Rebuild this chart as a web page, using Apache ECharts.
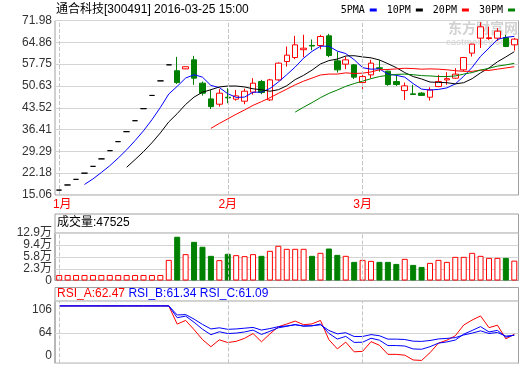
<!DOCTYPE html>
<html><head><meta charset="utf-8">
<script src="https://cdn.jsdelivr.net/npm/echarts@6/dist/echarts.min.js"></script>
<style>html,body{margin:0;padding:0;background:#fff}#c{width:520px;height:365px}</style>
</head><body><div id="c"></div>
<script>
// ---- data ----
const dates = ['2016-01-04','2016-01-05','2016-01-06','2016-01-07','2016-01-08','2016-01-11','2016-01-12','2016-01-13','2016-01-14','2016-01-15',
'2016-01-18','2016-01-19','2016-01-20','2016-01-21','2016-01-22','2016-01-25','2016-01-26','2016-01-27','2016-01-28','2016-01-29',
'2016-02-01','2016-02-02','2016-02-03','2016-02-04','2016-02-05','2016-02-15','2016-02-16','2016-02-17','2016-02-18','2016-02-19',
'2016-02-22','2016-02-23','2016-02-24','2016-02-25','2016-02-26','2016-02-29',
'2016-03-01','2016-03-02','2016-03-03','2016-03-04','2016-03-07','2016-03-08','2016-03-09','2016-03-10','2016-03-11','2016-03-14',
'2016-03-15','2016-03-16','2016-03-17','2016-03-18','2016-03-21','2016-03-22','2016-03-23','2016-03-24','2016-03-25'];
const opens  = [16.66,18.33,20.16,22.18,24.40,26.84,29.52,32.47,35.72,39.29,43.22,47.54,52.29,57.52,
55.60,56.20,59.15,51.54,46.41,44.68,46.95,46.31,45.66,48.60,52.06,46.08,52.61,58.59,59.90,62.45,
63.85,63.82,66.98,58.82,57.74,57.51,51.73,54.25,56.55,55.45,52.06,49.12,48.05,48.30,46.96,50.43,
52.60,53.17,55.88,61.33,66.23,66.10,66.23,66.43,64.04];
const closes = [16.66,18.33,20.16,22.18,24.40,26.84,29.52,32.47,35.72,39.29,43.22,47.54,52.29,57.52,
51.73,56.90,53.17,48.27,43.89,48.27,46.75,47.39,48.92,51.54,48.47,52.61,58.07,60.68,64.04,62.95,
63.65,66.76,60.55,55.88,59.15,53.50,53.69,58.07,56.35,51.10,51.08,50.65,47.85,47.55,49.35,52.06,
53.00,54.48,59.90,64.27,69.92,66.35,68.50,63.49,65.90];
const lows   = [16.66,18.33,20.16,22.18,24.40,26.84,29.52,32.47,35.72,39.29,43.22,47.54,52.29,57.52,
51.31,56.10,50.98,47.49,43.14,43.89,45.00,45.85,44.68,47.80,47.94,45.76,52.30,56.96,59.37,60.00,
62.30,62.64,60.00,55.00,56.11,52.90,48.47,53.17,55.30,50.70,50.65,46.08,47.70,47.40,45.85,50.23,
51.00,53.00,55.50,60.22,63.00,65.68,65.35,63.30,62.18];
const highs  = [16.66,18.33,20.16,22.18,24.40,26.84,29.52,32.47,35.72,39.29,43.22,47.54,52.29,57.52,
60.10,56.90,60.45,52.06,49.35,49.58,49.90,49.35,49.77,53.17,52.61,52.94,58.30,63.49,66.98,67.31,
65.80,67.31,67.64,61.86,60.22,57.80,55.33,59.15,59.00,55.60,54.25,51.73,50.98,48.60,50.20,54.25,
55.10,56.43,60.10,64.40,71.40,70.00,69.50,67.30,66.30];
const volumes = [5300,5300,5300,5300,5300,5300,5300,5300,5300,5300,5300,5300,5300,49800,
118000,66700,103000,88400,61700,49000,67600,63700,60800,66700,61700,76500,91300,82400,82400,82400,
61700,70600,83300,64600,61700,43900,49800,46800,43900,43900,37900,52800,35000,29000,40900,49800,
43900,58700,58700,70600,61700,55700,55700,55700,47525];
const ma5 = [null,null,null,18.5,20.3,22.4,24.6,27.1,29.8,32.8,36.0,39.6,43.6,48.0,50.5,53.2,54.3,53.5,50.8,50.1,
48.1,46.9,47.0,48.6,48.6,49.8,51.9,54.3,56.8,59.7,61.9,63.6,63.6,62.0,61.2,59.2,56.6,56.1,56.2,54.5,
54.1,53.5,51.4,49.6,49.3,49.5,50.0,51.3,53.8,56.7,60.3,63.0,65.8,66.5,66.8];
const ma10 = [null,null,null,null,null,null,null,null,24.1,26.6,29.2,32.1,35.3,38.9,41.6,44.6,47.0,48.6,49.4,50.3,
50.6,50.6,50.3,49.7,49.4,48.9,49.4,50.7,52.7,54.1,55.8,57.8,58.9,59.4,60.4,60.5,60.1,59.8,59.1,57.9,
56.6,55.0,53.7,52.9,51.9,51.8,51.7,51.3,51.7,53.0,54.9,56.5,58.5,60.1,61.8];
const ma20 = [null,null,null,null,null,null,null,null,null,null,null,null,null,null,null,null,null,null,36.8,38.4,
39.9,41.4,42.8,44.3,45.5,46.8,48.2,49.6,51.0,52.2,53.2,54.2,54.5,54.5,54.9,54.7,54.8,55.2,55.9,56.0,
56.2,56.4,56.3,56.1,56.2,56.1,55.9,55.6,55.4,55.4,55.8,55.7,56.1,56.5,56.9];
const ma30 = [null,null,null,null,null,null,null,null,null,null,null,null,null,null,null,null,null,null,null,null,
null,null,null,null,null,null,null,null,42.1,43.7,45.2,46.8,48.2,49.3,50.5,51.4,52.2,53.0,53.7,54.1,
54.4,54.5,54.3,54.0,53.9,53.7,53.7,53.9,54.5,55.0,55.8,56.4,57.1,57.5,58.0];
const rsiA = [100,100,100,100,100,100,100,100,100,100,100,100,100,100,
75.9,80.8,68.6,55.4,45.9,55.1,51.5,53.1,57.1,63.4,52.5,62.9,72.4,76.0,79.9,75.1,
76.2,80.8,55.3,43.1,52.0,39.2,39.8,52.7,47.9,35.9,35.8,34.8,28.4,27.8,38.0,50.7,
54.6,60.4,74.7,81.3,86.7,71.2,74.5,56.4,62.47];
const rsiB = [100,100,100,100,100,100,100,100,100,100,100,100,100,100,
84.4,86.5,78.4,69.1,61.9,65.8,63.4,64.0,65.5,68.0,62.2,66.4,71.0,73.0,75.3,73.1,
73.6,76.0,63.6,56.1,59.7,51.7,51.9,57.2,54.6,47.5,47.5,46.9,43.0,42.6,46.0,50.7,
52.3,54.8,62.6,67.5,72.6,65.5,67.6,58.6,61.34];
const rsiC = [100,100,100,100,100,100,100,100,100,100,100,100,100,100,
88.0,88.5,82.5,75.5,69.5,71.0,69.0,69.5,70.5,71.5,68.0,70.0,72.5,73.5,75.0,73.5,
73.8,75.0,67.5,63.0,64.5,59.5,59.5,62.0,60.5,56.0,56.0,55.5,53.3,53.0,54.2,56.2,
57.0,58.0,61.5,64.0,67.0,63.5,64.8,60.0,61.09];
const priceTicks = [15.06,22.18,29.29,36.41,43.52,50.63,57.75,64.86,71.98];
const volAxisMin = -11000, volAxisMax = 129000;
const volTickValues = [23000,58000,94000,129000];
const volTickLabels = ['2.3万','5.8万','9.4万','12.9万'];
const volBaseLabel = '0';
const rsiTickValues = [24,64,106.5];
const rsiTickLabels = ['0','64','106'];
const monthStarts = ['2016-01-04','2016-02-01','2016-03-01'];
const monthLabels = ['1月','2月','3月'];
const maNames = ['5PMA','10PM','20PM','30PM'];
const titleText = '通合科技[300491] 2016-03-25 15:00';

// ---- chart ----
const FONT = 'Liberation Sans, Noto Sans CJK SC, sans-serif';
const RED = '#ff0000', GREEN = '#008000', BLUE = '#0000ff';
const FRAME = '#a0a0a0', GRID = '#d4d4d4';
const chart = echarts.init(document.getElementById('c'));
const candleData = dates.map((d, i) => [opens[i], closes[i], lows[i], highs[i]]);
const volData = volumes.map((v, i) => ({
  value: v,
  itemStyle: closes[i] >= opens[i]
    ? { color: '#ffffff', borderColor: RED, borderWidth: 1 }
    : { color: GREEN, borderColor: GREEN, borderWidth: 1 }
}));
const monthMark = () => ({
  silent: true, symbol: ['none', 'none'], label: { show: false }, animation: false,
  lineStyle: { color: '#c4c4c4', type: 'dashed', width: 1 },
  data: monthStarts.map(d => ({ xAxis: d }))
});
const catAxis = (gi, labels) => ({
  type: 'category', gridIndex: gi, data: dates, boundaryGap: true,
  axisLine: { show: false }, axisTick: { show: false }, splitLine: { show: false },
  axisLabel: labels ? {
    show: true, color: RED, fontSize: 12, fontFamily: FONT, margin: 4,
    interval: (idx, val) => monthStarts.indexOf(val) >= 0,
    formatter: (val) => { const k = monthStarts.indexOf(val); return k === 0 ? '{f|' + monthLabels[k] + '}' : monthLabels[k]; },
    rich: { f: { padding: [0, 0, 0, 6], color: RED, fontSize: 12, fontFamily: FONT } }
  } : { show: false }
});
const lineS = (name, data, color, xi, yi, extra) => Object.assign({
  name, type: 'line', data, xAxisIndex: xi, yAxisIndex: yi, showSymbol: false, symbol: 'none',
  lineStyle: { color, width: 1 }, itemStyle: { color }, silent: true, connectNulls: false, z: 3
}, extra || {});
const hiddenBits = { axisLine: { show: false }, axisTick: { show: false } };

const option = {
  animation: false,
  backgroundColor: '#ffffff',
  textStyle: { fontFamily: FONT },
  title: [
    { text: titleText, left: 56, top: 4, padding: 0,
      textStyle: { fontSize: 12, fontWeight: 'normal', color: '#000', fontFamily: FONT } },
    { text: '成交量:' + volumes[volumes.length - 1], left: 57, top: 217, padding: 0,
      textStyle: { fontSize: 12, fontWeight: 'normal', color: '#000', fontFamily: FONT } },
    { text: '{a|RSI_A:' + rsiA[rsiA.length - 1].toFixed(2) + '} {b|RSI_B:' + rsiB[rsiB.length - 1].toFixed(2) +
            '} {b|RSI_C:' + rsiC[rsiC.length - 1].toFixed(2) + '}',
      left: 57, top: 288, padding: 0,
      textStyle: { fontSize: 12, fontWeight: 'normal', fontFamily: FONT,
        rich: { a: { color: RED, fontSize: 12, fontFamily: FONT }, b: { color: BLUE, fontSize: 12, fontFamily: FONT } } } }
  ],
  legend: {
    data: maNames, right: 5, top: 5, align: 'right', icon: 'rect', itemWidth: 7, itemHeight: 3,
    itemGap: 10, padding: 0, selectedMode: false,
    textStyle: { fontSize: 10, color: '#000', fontFamily: 'DejaVu Sans Mono, monospace' }
  },
  graphic: [
    { type: 'text', z: 0, silent: true, left: 448, top: 21,
      style: { text: '东方财富网', fill: '#d2d2d2', font: 'bold 14px "Noto Sans CJK SC"' } },
    { type: 'text', z: 0, silent: true, left: 446, top: 38,
      style: { text: 'eastmoney.com', fill: '#dadada', font: 'bold 9px "Liberation Sans"' } },
    { type: 'rect', z: 0, silent: true, shape: { x: 55, y: 214, width: 463.5, height: 66.5 },
      style: { fill: 'none', stroke: FRAME, lineWidth: 1 } },
    { type: 'rect', z: 0, silent: true, shape: { x: 55, y: 287.5, width: 463.5, height: 75.8 },
      style: { fill: 'none', stroke: FRAME, lineWidth: 1 } }
  ],
  grid: [
    { left: 55, right: 1.5, top: 20.5, height: 174.5, show: true, borderColor: FRAME, borderWidth: 1, backgroundColor: 'transparent' },
    { left: 55, right: 1.5, top: 233, height: 47.5, show: true, borderColor: FRAME, borderWidth: 1, backgroundColor: 'transparent' },
    { left: 55, right: 1.5, top: 301, height: 62.3, show: true, borderColor: FRAME, borderWidth: 1, backgroundColor: 'transparent' }
  ],
  xAxis: [catAxis(0, true), catAxis(1, false), catAxis(2, false)],
  yAxis: [
    Object.assign({ type: 'value', gridIndex: 0, min: priceTicks[0], max: priceTicks[priceTicks.length - 1],
      axisTick: { show: false, customValues: priceTicks },
      axisLabel: { customValues: priceTicks, formatter: v => v.toFixed(2), color: '#333', fontSize: 12, fontFamily: FONT, margin: 3,
        showMinLabel: true, showMaxLabel: true, hideOverlap: false },
      splitLine: { show: true, lineStyle: { color: GRID, width: 1 } } }, { axisLine: { show: false } }),
    { type: 'value', gridIndex: 1, position: 'left', min: volAxisMin, max: volAxisMax, startValue: volAxisMin,
      axisLine: { show: false }, axisTick: { show: false, customValues: volTickValues },
      axisLabel: { customValues: volTickValues, color: '#333', fontSize: 12, lineHeight: 11, fontFamily: FONT, margin: 3,
        showMinLabel: true, showMaxLabel: true, hideOverlap: false,
        formatter: v => volTickLabels[volTickValues.indexOf(v)] },
      splitLine: { show: true, lineStyle: { color: GRID, width: 1 } } },
    { type: 'value', gridIndex: 2, min: rsiTickValues[0], max: rsiTickValues[rsiTickValues.length - 1],
      axisLine: { show: false }, axisTick: { show: false, customValues: rsiTickValues },
      axisLabel: { customValues: rsiTickValues, color: '#333', fontSize: 12, fontFamily: FONT, margin: 3,
        showMinLabel: true, showMaxLabel: true, hideOverlap: false,
        formatter: v => { const i = rsiTickValues.indexOf(v); if (i === rsiTickValues.length - 1) return '{t|' + rsiTickLabels[i] + '}'; if (i === 0) return '{b|' + rsiTickLabels[i] + '}'; return rsiTickLabels[i]; },
        rich: { t: { padding: [18, 0, 0, 0], color: '#333', fontSize: 12, fontFamily: FONT },
                b: { padding: [0, 0, 16, 0], color: '#333', fontSize: 12, fontFamily: FONT } } },
      splitLine: { show: true, lineStyle: { color: GRID, width: 1 } } },
    { type: 'value', gridIndex: 1, position: 'left', offset: 0, min: volAxisMin, max: volAxisMax,
      axisLine: { show: false }, axisTick: { show: false, customValues: [volAxisMin] }, splitLine: { show: false },
      axisLabel: { customValues: [volAxisMin], formatter: () => volBaseLabel, color: '#333', fontSize: 12, fontFamily: FONT, margin: 3,
        showMinLabel: true, hideOverlap: false } }
  ],
  series: [
    { type: 'candlestick', name: 'K', xAxisIndex: 0, yAxisIndex: 0, data: candleData, barWidth: 6, silent: true, z: 2,
      itemStyle: { color: '#ffffff', color0: GREEN, borderColor: RED, borderColor0: GREEN, borderColorDoji: '#000000', borderWidth: 1 },
      markLine: monthMark() },
    lineS(maNames[0], ma5, BLUE, 0, 0),
    lineS(maNames[1], ma10, '#000000', 0, 0),
    lineS(maNames[2], ma20, RED, 0, 0),
    lineS(maNames[3], ma30, GREEN, 0, 0),
    { type: 'bar', name: 'VOL', xAxisIndex: 1, yAxisIndex: 1, data: volData, barWidth: 6, silent: true,
      markLine: monthMark() },
    lineS('RSI_A', rsiA, RED, 2, 2, { markLine: monthMark() }),
    lineS('RSI_B', rsiB, BLUE, 2, 2),
    lineS('RSI_C', rsiC, BLUE, 2, 2)
  ]
};
chart.setOption(option);
</script></body></html>
